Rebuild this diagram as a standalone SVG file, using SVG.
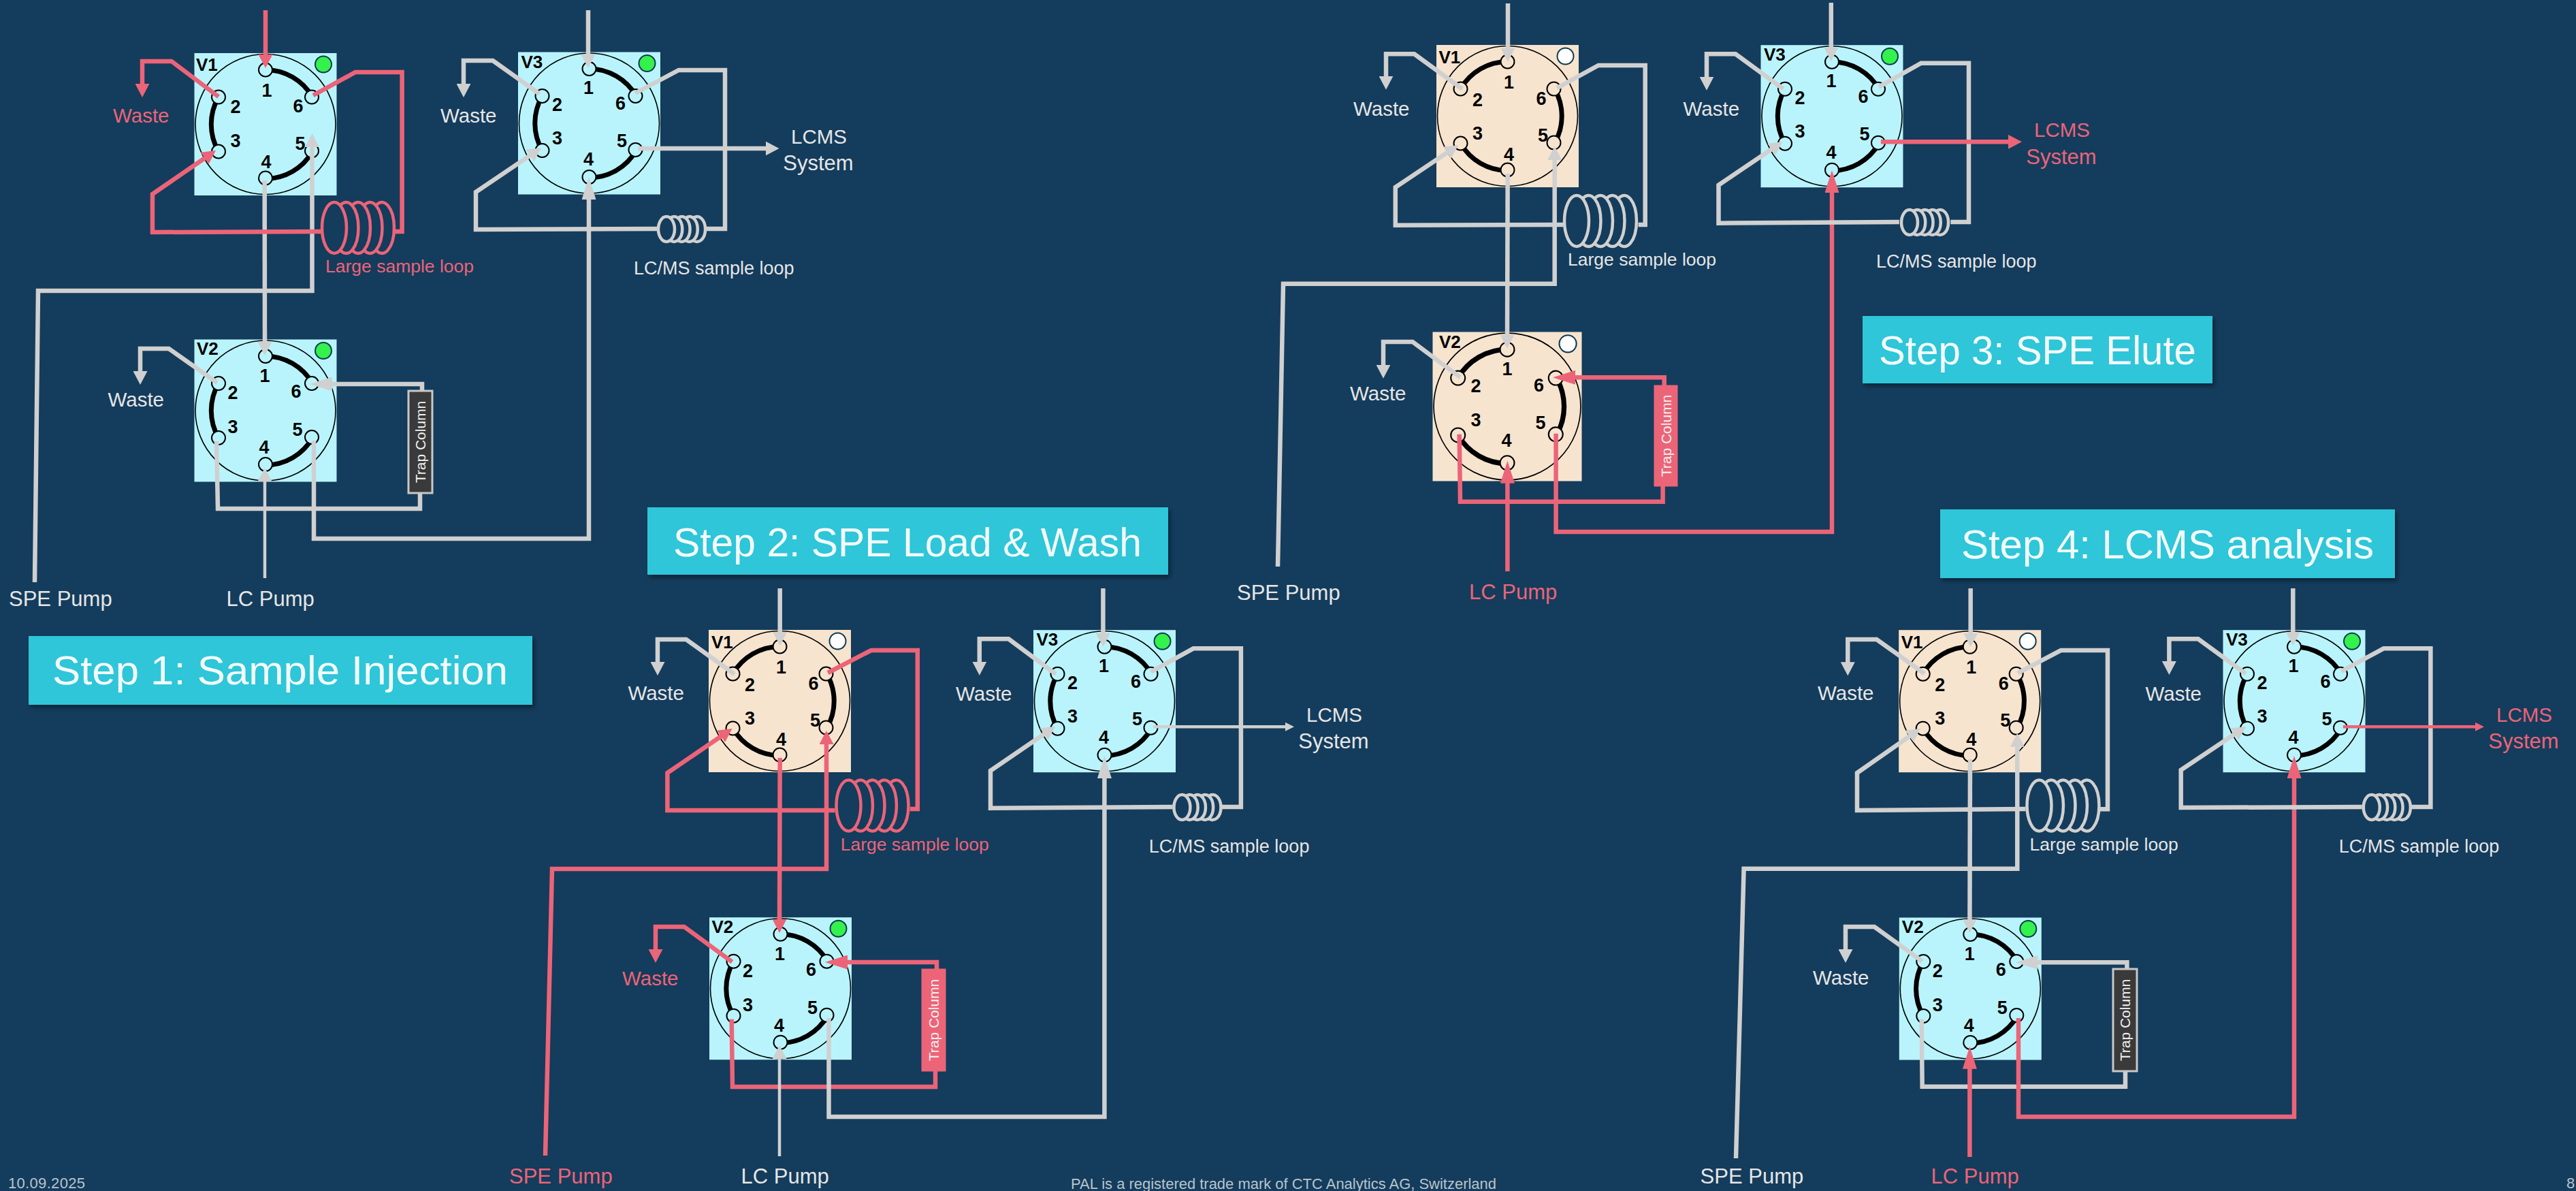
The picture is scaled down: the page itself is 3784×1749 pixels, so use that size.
<svg xmlns="http://www.w3.org/2000/svg" width="3784" height="1749" viewBox="0 0 3784 1749">
<style>
text{font-family:"Liberation Sans",Arial,sans-serif}
.g{color:#d0d0d0;fill:#e6e6e6}
.k{color:#ec6478;fill:#ec6478}
.l{font-size:29.5px}
.m{font-size:27px}
.u{font-size:31px}
.n text,.n{font-size:27px;font-weight:700;fill:#000;text-anchor:middle}
.n .v{text-anchor:start;font-size:26px}
.w path,.w polyline,.w line{fill:none;stroke-width:6.5}
.w .g{stroke:#d0d0d0}
.w .k{stroke:#ec6478}
.w .t{stroke-width:4.5}
.ttl{fill:#2fc6d8;filter:url(#sh)}
.tt{font-size:59px;fill:#f4fbfc}
.col{stroke-width:3}
.colg{fill:#3a3a3a;stroke:#c8c8c8}
.colk{fill:#ec6478;stroke:#ec6478}
.ct{font-size:21px;fill:#f2f2f2;text-anchor:middle}
.c{text-anchor:middle}
.ft{font-size:22px;fill:#b9c4cc}
.arc{fill:none;stroke:#000;stroke-width:7}
.ring{fill:none;stroke:#000;stroke-width:1.600}
.coil{fill:none;stroke:currentColor;stroke-width:4.500}
</style>
<defs>
<filter id="sh" x="-5%" y="-15%" width="110%" height="130%"><feDropShadow dx="3" dy="4" stdDeviation="3" flood-color="#000" flood-opacity=".4"/></filter>
<marker id="ag" markerUnits="userSpaceOnUse" markerWidth="20" markerHeight="21" refX="6" refY="10.5" orient="auto"><path d="M0,0L20,10.5L0,21Z" fill="#d0d0d0"/></marker>
<marker id="ak" markerUnits="userSpaceOnUse" markerWidth="20" markerHeight="21" refX="6" refY="10.5" orient="auto"><path d="M0,0L20,10.5L0,21Z" fill="#ec6478"/></marker>
<marker id="lg" markerUnits="userSpaceOnUse" markerWidth="33" markerHeight="21" refX="6" refY="10.5" orient="auto"><path d="M0,0L33,10.5L0,21Z" fill="#d0d0d0"/></marker>
<marker id="lk" markerUnits="userSpaceOnUse" markerWidth="33" markerHeight="21" refX="6" refY="10.5" orient="auto"><path d="M0,0L33,10.5L0,21Z" fill="#ec6478"/></marker>
<marker id="sg" markerUnits="userSpaceOnUse" markerWidth="13" markerHeight="13" refX="3" refY="6.5" orient="auto"><path d="M0,0L13,6.5L0,13Z" fill="#d0d0d0"/></marker>
<marker id="sk" markerUnits="userSpaceOnUse" markerWidth="13" markerHeight="13" refX="3" refY="6.5" orient="auto"><path d="M0,0L13,6.5L0,13Z" fill="#ec6478"/></marker>
<g id="vb">
<rect x="-104.500" y="-104.500" width="209" height="209" fill="#b9f4fd"/>
<circle r="103" class="ring"/>
<path class="arc" d="M0,-80A80,80 0 0 1 69,-40M-69,-40A80,80 0 0 0 -69,40M0,80A80,80 0 0 0 69,40"/>
<g fill="#b9f4fd" stroke="#000" stroke-width="2"><circle cx="0" cy="-80" r="10"/><circle cx="-69" cy="-40" r="10"/><circle cx="-69" cy="40" r="10"/><circle cx="0" cy="79" r="10"/><circle cx="68" cy="39" r="10"/><circle cx="68" cy="-40" r="10"/></g>
<circle cx="85" cy="-88" r="12" fill="#33f24c" stroke="#0f3a50" stroke-width="2"/>
</g>
<g id="ve">
<rect x="-104.500" y="-104.500" width="209" height="209" fill="#f6e4cf"/>
<circle r="103" class="ring"/>
<path class="arc" d="M0,-80A80,80 0 0 0 -69,-40M-69,40A80,80 0 0 0 0,80M69,40A80,80 0 0 0 69,-40"/>
<g fill="#f6e4cf" stroke="#000" stroke-width="2"><circle cx="0" cy="-80" r="10"/><circle cx="-69" cy="-40" r="10"/><circle cx="-69" cy="40" r="10"/><circle cx="0" cy="79" r="10"/><circle cx="68" cy="39" r="10"/><circle cx="68" cy="-40" r="10"/></g>
<circle cx="85" cy="-88" r="12" fill="#fff" stroke="#0f3a50" stroke-width="2"/>
</g>
<g id="coilL" class="coil"><ellipse cx="20" cy="39.500" rx="18" ry="37.500"/><path d="M28.750,6.700A18,37.500 0 1 1 28.750,72.300M46.250,6.700A18,37.500 0 1 1 46.250,72.300M63.750,6.700A18,37.500 0 1 1 63.750,72.300M81.250,6.700A18,37.500 0 1 1 81.250,72.300"/></g>
<g id="coilS" class="coil"><ellipse cx="14" cy="20.500" rx="12" ry="18.500"/><path d="M19.600,4.200A12,18.500 0 1 1 19.600,36.800M30.900,4.200A12,18.500 0 1 1 30.900,36.800M42.100,4.200A12,18.500 0 1 1 42.100,36.800M53.400,4.200A12,18.500 0 1 1 53.400,36.800"/></g>
</defs>
<rect width="3784" height="1749" fill="#143c5c"/>

<g id="valves">
<g id="s1-v1" class="n" transform="translate(390,182.500)"><use href="#vb"/><text class="v" x="-102" y="-78.500">V1</text><text x="2" y="-41">1</text><text x="-44" y="-17">2</text><text x="-44" y="33">3</text><text x="1" y="64">4</text><text x="51" y="37">5</text><text x="48" y="-18">6</text></g>
<g id="s1-v2" class="n" transform="translate(390,603)"><use href="#vb"/><text class="v" x="-101" y="-82">V2</text><text x="-1" y="-42">1</text><text x="-48" y="-17">2</text><text x="-48" y="33">3</text><text x="-2" y="63">4</text><text x="47" y="37">5</text><text x="45" y="-19">6</text></g>
<g id="s1-v3" class="n" transform="translate(865.500,181)"><use href="#vb"/><text class="v" x="-100" y="-81">V3</text><text x="-1" y="-43">1</text><text x="-47" y="-18">2</text><text x="-47" y="31">3</text><text x="-1" y="62">4</text><text x="48" y="35">5</text><text x="46" y="-20">6</text></g>

<g id="s2-v1" class="n" transform="translate(1145.500,1029.500)"><use href="#ve"/><text class="v" x="-100.500" y="-77.500">V1</text><text x="2" y="-41">1</text><text x="-44" y="-15">2</text><text x="-44" y="34.500">3</text><text x="2" y="65">4</text><text x="52" y="37.500">5</text><text x="49.500" y="-16.500">6</text></g>
<g id="s2-v2" class="n" transform="translate(1146.500,1451.700)"><use href="#vb"/><text class="v" x="-101" y="-81.700">V2</text><text x="-1" y="-42">1</text><text x="-48" y="-17">2</text><text x="-48" y="33">3</text><text x="-2" y="63">4</text><text x="47" y="37">5</text><text x="45" y="-19">6</text></g>
<g id="s2-v3" class="n" transform="translate(1622.500,1029.700)"><use href="#vb"/><text class="v" x="-100" y="-81.700">V3</text><text x="-1" y="-43">1</text><text x="-47" y="-18">2</text><text x="-47" y="31">3</text><text x="-1" y="62">4</text><text x="48" y="35">5</text><text x="46" y="-20">6</text></g>

<g id="s3-v1" class="n" transform="translate(2214.500,170.500)"><use href="#ve"/><text class="v" x="-101" y="-77.500">V1</text><text x="2" y="-41">1</text><text x="-44" y="-15">2</text><text x="-44" y="34.500">3</text><text x="2" y="65">4</text><text x="52" y="37.500">5</text><text x="49.500" y="-16.500">6</text></g>
<g id="s3-v2" class="n" transform="translate(2214,597)"><use href="#ve" transform="scale(1.048)"/><text class="v" x="-100" y="-86">V2</text><text x="0" y="-46">1</text><text x="-46" y="-21">2</text><text x="-46" y="29">3</text><text x="-1" y="59">4</text><text x="49" y="33">5</text><text x="46.500" y="-22">6</text></g>
<g id="s3-v3" class="n" transform="translate(2691,170.700)"><use href="#vb"/><text class="v" x="-100" y="-81.700">V3</text><text x="-1" y="-43">1</text><text x="-47" y="-18">2</text><text x="-47" y="31">3</text><text x="-1" y="62">4</text><text x="48" y="35">5</text><text x="46" y="-20">6</text></g>

<g id="s4-v1" class="n" transform="translate(2893.700,1029.700)"><use href="#ve"/><text class="v" x="-101" y="-77.700">V1</text><text x="2" y="-41">1</text><text x="-44" y="-15">2</text><text x="-44" y="34.500">3</text><text x="2" y="65">4</text><text x="52" y="37.500">5</text><text x="49.500" y="-16.500">6</text></g>
<g id="s4-v2" class="n" transform="translate(2894.300,1452)"><use href="#vb"/><text class="v" x="-100.500" y="-82.300">V2</text><text x="-1" y="-42">1</text><text x="-48" y="-17">2</text><text x="-48" y="33">3</text><text x="-2" y="63">4</text><text x="47" y="37">5</text><text x="45" y="-19">6</text></g>
<g id="s4-v3" class="n" transform="translate(3370,1029.700)"><use href="#vb"/><text class="v" x="-100" y="-81.700">V3</text><text x="-1" y="-43">1</text><text x="-47" y="-18">2</text><text x="-47" y="31">3</text><text x="-1" y="62">4</text><text x="48" y="35">5</text><text x="46" y="-20">6</text></g>
</g>

<g id="connectors" class="w">
<!-- step 1 -->
<polyline class="g" points="51,855 56,427 458.500,427 458.500,210" marker-end="url(#ag)"/>
<polyline class="g" points="388.700,265 389,508" marker-end="url(#ag)"/>
<polyline class="k" points="390,15 390,86" marker-end="url(#ak)"/>
<polyline class="k" points="321,142 252,90 209,90 209,129" marker-end="url(#ak)"/>
<polyline class="k" points="460,140 522,106 590.600,106 590.600,340 580,340"/>
<polyline class="k" points="471,340 224,341 224,285 305.500,229" marker-end="url(#ak)"/>
<polyline class="g" points="864,15 864,86" marker-end="url(#ag)"/>
<polyline class="g" points="792.600,138 724,89 681,89 681,129" marker-end="url(#ag)"/>
<polyline class="g" points="933,137 997,103 1065,103 1065,336 1037.500,336"/>
<polyline class="g" points="965,336 699,337 699,282 783.500,225" marker-end="url(#ag)"/>
<polyline class="g" points="937.500,218 1130.500,218" marker-end="url(#ag)"/>
<polyline class="g" points="319,562 248,512 206,512 206,551" marker-end="url(#ag)"/>
<polyline class="g" points="620,575 620,564 482,564" marker-end="url(#lg)"/>
<polyline class="g" points="617,724 617,747 320,747 318,648"/>
<polyline class="g" points="461,647 461,791 865,791 865,287" marker-end="url(#lg)"/>
<polyline class="g t" points="389,849 389,701" marker-end="url(#ag)"/>
<!-- step 2 -->
<polyline class="g" points="1145.700,864 1145.700,934" marker-end="url(#ag)"/>
<polyline class="g" points="1078.800,990 1008,939 966,939 966,978" marker-end="url(#ag)"/>
<polyline class="k" points="1216,988 1279.600,955 1347.800,955 1347.800,1188 1336.700,1188"/>
<polyline class="k" points="1226.500,1190 980.400,1190 980.400,1135 1064,1078" marker-end="url(#ak)"/>
<polyline class="k" points="801,1697 811,1276 1214,1276 1214,1087" marker-end="url(#ak)"/>
<polyline class="k" points="1145.700,1113 1145,1356" marker-end="url(#ak)"/>
<polyline class="k" points="1075.500,1412.700 1005,1361 963,1361 963,1400" marker-end="url(#ak)"/>
<polyline class="k" points="1376,1423 1376,1413 1239,1413" marker-end="url(#lk)"/>
<polyline class="k" points="1374,1572 1374,1596 1076,1596 1074.700,1496.700"/>
<polyline class="g" points="1217.500,1495 1217.500,1640 1622.400,1640 1622.400,1137" marker-end="url(#lg)"/>
<polyline class="g t" points="1145,1698 1145,1549" marker-end="url(#ag)"/>
<polyline class="g" points="1620.400,864 1620.400,936" marker-end="url(#ag)"/>
<polyline class="g" points="1551,990 1481.600,938.300 1438.800,938.300 1438.800,977.700" marker-end="url(#ag)"/>
<polyline class="g" points="1690.600,986.700 1753,952.300 1822.900,952.300 1822.900,1185 1795,1185"/>
<polyline class="g" points="1722.400,1185 1455,1186.700 1455,1131.700 1538.500,1074.700" marker-end="url(#ag)"/>
<polyline class="g t" points="1694,1067.300 1891,1067.300" marker-end="url(#sg)"/>
<!-- step 3 -->
<polyline class="g" points="2215,5 2215,76.700" marker-end="url(#ag)"/>
<polyline class="g" points="2148,130.700 2077.500,79.300 2036,79.300 2036,117.700" marker-end="url(#ag)"/>
<polyline class="g" points="2287,129.300 2348,96 2416.700,96 2416.700,330 2406.500,330"/>
<polyline class="g" points="2296,330 2049.800,330.700 2049.800,275 2130.500,221" marker-end="url(#ag)"/>
<polyline class="g" points="1877,832 1885,416.700 2283.700,416.700 2283.700,229" marker-end="url(#ag)"/>
<polyline class="g" points="2214.700,255 2214,497.700" marker-end="url(#ag)"/>
<polyline class="g" points="2145,554 2075,502 2032,502 2032,541.700" marker-end="url(#ag)"/>
<polyline class="k" points="2444.700,566 2444.700,554.300 2308,554.300" marker-end="url(#lk)"/>
<polyline class="k" points="2442.600,713 2442.600,736.700 2145,736.700 2143.700,637.700"/>
<polyline class="k" points="2285.600,636.700 2285.600,781 2691,781 2691,277" marker-end="url(#lk)"/>
<polyline class="k" points="2214.400,839 2214.400,703.700" marker-end="url(#lk)"/>
<polyline class="g" points="2689.800,4 2689.800,76" marker-end="url(#ag)"/>
<polyline class="g" points="2619.600,130.700 2549.400,79.300 2507,79.300 2507,118.700" marker-end="url(#ag)"/>
<polyline class="g" points="2760,127.700 2822,92.700 2892,92.700 2892,326 2865.300,326"/>
<polyline class="g" points="2789.800,326 2524.500,327.700 2524.500,271.700 2607,216" marker-end="url(#ag)"/>
<polyline class="k" points="2762.900,208.300 2956,208.300" marker-end="url(#ak)"/>
<!-- step 4 -->
<polyline class="g" points="2894.700,864 2894.700,936" marker-end="url(#ag)"/>
<polyline class="g" points="2827,989.300 2756.700,939 2714.300,939 2714.300,978.300" marker-end="url(#ag)"/>
<polyline class="g" points="2964,988.300 3027.300,955 3096,955 3096,1188.300 3084.500,1188.300"/>
<polyline class="g" points="2975.500,1188 2728,1190 2728,1135 2809.500,1078" marker-end="url(#ag)"/>
<polyline class="g" points="2550,1701 2561.600,1275.700 2963.300,1275.700 2963.300,1090.700" marker-end="url(#ag)"/>
<polyline class="g" points="2894,1115 2893.400,1356" marker-end="url(#ag)"/>
<polyline class="g" points="2823.700,1411.700 2753.400,1361 2711,1361 2711,1400" marker-end="url(#ag)"/>
<polyline class="g" points="3124.400,1423 3124.400,1413.300 2987.500,1413.300" marker-end="url(#lg)"/>
<polyline class="g" points="3122,1572.700 3122,1595.700 2823.700,1595.700 2822.700,1496.700"/>
<polyline class="k" points="2965,1495 2965,1640 3370,1640 3370,1137" marker-end="url(#lk)"/>
<polyline class="k" points="2893.400,1699 2893.400,1563.700" marker-end="url(#lk)"/>
<polyline class="g" points="3368.300,864 3368.300,934" marker-end="url(#ag)"/>
<polyline class="g" points="3299,989.300 3229,938.300 3186.400,938.300 3186.400,977" marker-end="url(#ag)"/>
<polyline class="g" points="3439,986 3501.400,952.300 3570.400,952.300 3570.400,1185 3542.500,1185"/>
<polyline class="g" points="3469.800,1185 3203.700,1186 3203.700,1130.700 3287.500,1074.700" marker-end="url(#ag)"/>
<polyline class="k t" points="3441.800,1067.300 3639,1067.300" marker-end="url(#sk)"/>
</g>

<g id="s1-coil-large" class="k"><use href="#coilL" x="471" y="295"/><text class="m" x="478" y="400" style="font-size:26.5px">Large sample loop</text></g>
<g id="s1-coil-lcms" class="g"><use href="#coilS" x="965" y="316"/><text class="m" x="931" y="403">LC/MS sample loop</text></g>
<g id="s2-coil-large" class="k"><use href="#coilL" x="1226.500" y="1143.500"/><text class="m" x="1234.700" y="1249" style="font-size:26.5px">Large sample loop</text></g>
<g id="s2-coil-lcms" class="g"><use href="#coilS" x="1722.400" y="1165"/><text class="m" x="1687.800" y="1252">LC/MS sample loop</text></g>
<g id="s3-coil-large" class="g"><use href="#coilL" x="2296" y="285"/><text class="m" x="2303" y="390" style="font-size:26.5px">Large sample loop</text></g>
<g id="s3-coil-lcms" class="g"><use href="#coilS" x="2791" y="306"/><text class="m" x="2756" y="393">LC/MS sample loop</text></g>
<g id="s4-coil-large" class="g"><use href="#coilL" x="2975.500" y="1143.500"/><text class="m" x="2981.600" y="1249" style="font-size:26.5px">Large sample loop</text></g>
<g id="s4-coil-lcms" class="g"><use href="#coilS" x="3469.800" y="1165"/><text class="m" x="3435.700" y="1252">LC/MS sample loop</text></g>

<g id="s1-column"><rect class="col colg" x="600" y="574" width="35" height="150"/><text class="ct" transform="translate(617.500,649) rotate(-90)" y="7.500">Trap Column</text></g>
<g id="s2-column"><rect class="col colk" x="1355" y="1424" width="33" height="148"/><text class="ct" transform="translate(1371.500,1498) rotate(-90)" y="7.500">Trap Column</text></g>
<g id="s3-column"><rect class="col colk" x="2431" y="567" width="32" height="146"/><text class="ct" transform="translate(2447,640) rotate(-90)" y="7.500">Trap Column</text></g>
<g id="s4-column"><rect class="col colg" x="3104" y="1423" width="35" height="150"/><text class="ct" transform="translate(3121.500,1498) rotate(-90)" y="7.500">Trap Column</text></g>

<g id="labels">
<text class="k l" x="166" y="180">Waste</text>
<text class="g l" x="647" y="180">Waste</text>
<text class="g l c" x="1203" y="210.700">LCMS</text>
<text class="g l c" x="1202" y="250" style="font-size:31px">System</text>
<text class="g l" x="158.500" y="597">Waste</text>
<text class="g u" x="13" y="890">SPE Pump</text>
<text class="g u" x="332.600" y="890">LC Pump</text>

<text class="g l" x="922.400" y="1028">Waste</text>
<text class="g l" x="1404" y="1029">Waste</text>
<text class="g l c" x="1960" y="1060">LCMS</text>
<text class="g l c" x="1959" y="1099" style="font-size:31px">System</text>
<text class="k l" x="914" y="1446.700">Waste</text>
<text class="k u" x="748" y="1738">SPE Pump</text>
<text class="g u" x="1088.600" y="1738">LC Pump</text>

<text class="g l" x="1988" y="170">Waste</text>
<text class="g l" x="2472.600" y="170">Waste</text>
<text class="k l c" x="3029" y="201">LCMS</text>
<text class="k l c" x="3028" y="240.700" style="font-size:31px">System</text>
<text class="g l" x="1983" y="587.700">Waste</text>
<text class="g u" x="1817" y="881">SPE Pump</text>
<text class="k u" x="2158" y="880">LC Pump</text>

<text class="g l" x="2670" y="1028">Waste</text>
<text class="g l" x="3151.500" y="1029">Waste</text>
<text class="k l c" x="3708" y="1060">LCMS</text>
<text class="k l c" x="3707" y="1099" style="font-size:31px">System</text>
<text class="g l" x="2663" y="1446">Waste</text>
<text class="g u" x="2497.600" y="1738">SPE Pump</text>
<text class="k u" x="2836.500" y="1738">LC Pump</text>
</g>

<g id="step-1"><rect class="ttl" x="42" y="934" width="740" height="101"/><text class="tt" x="77" y="1005" textLength="669" lengthAdjust="spacingAndGlyphs">Step 1: Sample Injection</text></g>
<g id="step-2"><rect class="ttl" x="951" y="745" width="765" height="99"/><text class="tt" x="989" y="817" textLength="688" lengthAdjust="spacingAndGlyphs">Step 2: SPE Load &amp; Wash</text></g>
<g id="step-3"><rect class="ttl" x="2736" y="464" width="514" height="99"/><text class="tt" x="2760" y="535" textLength="466" lengthAdjust="spacingAndGlyphs">Step 3: SPE Elute</text></g>
<g id="step-4"><rect class="ttl" x="2850" y="748" width="668" height="101"/><text class="tt" x="2881" y="820" textLength="606" lengthAdjust="spacingAndGlyphs">Step 4: LCMS analysis</text></g>

<g id="footer">
<text class="ft" x="12" y="1745" textLength="113">10.09.2025</text>
<text class="ft" x="1573" y="1746" textLength="625" lengthAdjust="spacingAndGlyphs">PAL is a registered trade mark of CTC Analytics AG, Switzerland</text>
<text class="ft" x="3770" y="1745">8</text>
</g>
</svg>
